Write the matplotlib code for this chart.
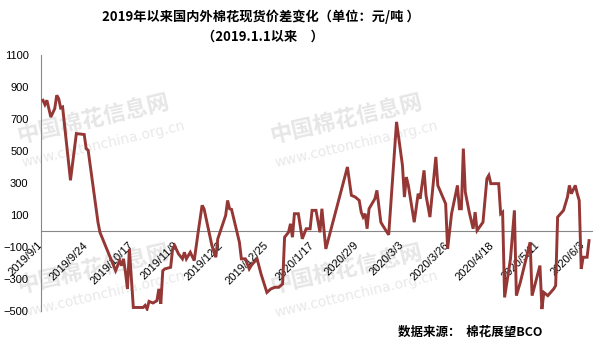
import pandas as pd
import matplotlib
matplotlib.use("Agg")
import matplotlib.pyplot as plt

plt.rcParams['font.family'] = ['Liberation Sans', 'Noto Sans CJK SC', 'DejaVu Sans']

# spread between domestic and international cotton spot price (yuan/ton)
dates = [
    "2019-09-02", "2019-09-03", "2019-09-04", "2019-09-06", "2019-09-08", "2019-09-09",
    "2019-09-10", "2019-09-11", "2019-09-12", "2019-09-16", "2019-09-19", "2019-09-23",
    "2019-09-24", "2019-09-25", "2019-09-30", "2019-10-01", "2019-10-09", "2019-10-11",
    "2019-10-12", "2019-10-13", "2019-10-14", "2019-10-15", "2019-10-16", "2019-10-18",
    "2019-10-23", "2019-10-24", "2019-10-25", "2019-10-26", "2019-10-28", "2019-10-30",
    "2019-10-31", "2019-11-01", "2019-11-02", "2019-11-03", "2019-11-06", "2019-11-07",
    "2019-11-08", "2019-11-10", "2019-11-12", "2019-11-13", "2019-11-14", "2019-11-16",
    "2019-11-18", "2019-11-20", "2019-11-22", "2019-11-23", "2019-11-27", "2019-11-29",
    "2019-11-30", "2019-12-04", "2019-12-05", "2019-12-06", "2019-12-07", "2019-12-11",
    "2019-12-12", "2019-12-14", "2019-12-16", "2019-12-17", "2019-12-20", "2019-12-22",
    "2019-12-25", "2019-12-27", "2019-12-29", "2019-12-31", "2020-01-02", "2020-01-03",
    "2020-01-05", "2020-01-06", "2020-01-07", "2020-01-08", "2020-01-10", "2020-01-12",
    "2020-01-14", "2020-01-16", "2020-01-17", "2020-01-19", "2020-01-21", "2020-01-22",
    "2020-01-24", "2020-02-04", "2020-02-06", "2020-02-08", "2020-02-10", "2020-02-11",
    "2020-02-12", "2020-02-13", "2020-02-14", "2020-02-15", "2020-02-16", "2020-02-18",
    "2020-02-19", "2020-02-21", "2020-02-22", "2020-02-25", "2020-02-29", "2020-03-03",
    "2020-03-04", "2020-03-05", "2020-03-06", "2020-03-09", "2020-03-11", "2020-03-12",
    "2020-03-14", "2020-03-15", "2020-03-17", "2020-03-20", "2020-03-21", "2020-03-25",
    "2020-03-26", "2020-03-28", "2020-03-31", "2020-04-01", "2020-04-02", "2020-04-03",
    "2020-04-04", "2020-04-06", "2020-04-08", "2020-04-09", "2020-04-10", "2020-04-13",
    "2020-04-15", "2020-04-16", "2020-04-17", "2020-04-21", "2020-04-22", "2020-04-23",
    "2020-04-24", "2020-04-27", "2020-04-29", "2020-04-30", "2020-05-02", "2020-05-07",
    "2020-05-08", "2020-05-10", "2020-05-12", "2020-05-13", "2020-05-14", "2020-05-16",
    "2020-05-19", "2020-05-20", "2020-05-21", "2020-05-24", "2020-05-26", "2020-05-27",
    "2020-05-28", "2020-05-30", "2020-05-31", "2020-06-01", "2020-06-02", "2020-06-03",
    "2020-06-05", "2020-06-06",
]
spread = [
    817, 790, 817, 712, 765, 848,
    828, 769, 775, 317, 609, 603,
    515, 505, 55, -8, -248, -185,
    -216, -174, -258, -362, -112, -478,
    -478, -465, -487, -440, -450, -436,
    -362, -455, -248, -237, -227, -112,
    -91, -143, -174, -133, -174, -133,
    -185, -8, 160, 139, -91, -164,
    -49, 97, 191, 139, 135, -70,
    -174, -174, -237, -216, -174, -268,
    -384, -362, -352, -352, -331, -39,
    -8, 45, -39, 108, 108, -49,
    14, 14, 129, 129, -8, 139,
    -112, 400, 223, 212, 191, 118,
    87, 108, 14, 139, 160, 202,
    254, 55, 34, -24, 682, 411,
    212, 337, 285, 55, 233, 202,
    379, 223, 87, 463, 285, 170,
    -112, 108, 285, 139, 139, 515,
    243, 118, 14, 118, 3, 55,
    327, 348, 296, 296, 108, 118,
    -415, -174, 129, -404, -321, -70,
    -404, -310, -216, -488, -384, -404,
    -362, -341, 87, 129, 212, 285,
    233, 285, 233, 191, -237, -164,
    -164, -60,
]

tick_dates = ["2019-09-01", "2019-09-24", "2019-10-17", "2019-11-09", "2019-12-02",
              "2019-12-25", "2020-01-17", "2020-02-09", "2020-03-03", "2020-03-26",
              "2020-04-18", "2020-05-11", "2020-06-03"]
tick_labels = ["2019/9/1", "2019/9/24", "2019/10/17", "2019/11/9", "2019/12/2",
               "2019/12/25", "2020/1/17", "2020/2/9", "2020/3/3", "2020/3/26",
               "2020/4/18", "2020/5/11", "2020/6/3"]
y_ticks = [-500, -300, -100, 100, 300, 500, 700, 900, 1100]

W, H = 594, 358


def fx(x):
    return x / W


def fy(y):
    return 1 - y / H


fig = plt.figure(figsize=(W / 100, H / 100), dpi=100)
ax = fig.add_axes([fx(41), fy(311), (592 - 41) / W, (311 - 55) / H])
ax.set_facecolor('none')

# faint site watermarks behind the chart
cjk = ['Noto Sans CJK SC', 'DejaVu Sans']
for x0, y0 in [(15, 143), (268, 143), (15, 293), (268, 293)]:
    fig.text(fx(x0), fy(y0), "中国棉花信息网", rotation=13, fontsize=16, fontweight='bold',
             color='#e6e6e6', family=cjk, ha='left', va='baseline', zorder=-5)
    fig.text(fx(x0 + 5), fy(y0 + 24), "www.cottonchina.org.cn", rotation=13, fontsize=10,
             color='#e9e9e9', family='DejaVu Sans', ha='left', va='baseline', zorder=-5)

ax.plot(pd.to_datetime(dates), spread, color='#953735', lw=2.1, solid_joinstyle='miter', zorder=3)

start = pd.Timestamp("2019-09-01")
ax.set_xlim(start, start + pd.Timedelta(days=280.5))
ax.set_ylim(-500, 1100)
ax.set_yticks(y_ticks)
ax.set_xticks(pd.to_datetime(tick_dates))
ax.set_xticklabels(tick_labels)

for s in ['top', 'right']:
    ax.spines[s].set_visible(False)
ax.spines['left'].set_color('#888888')
ax.spines['left'].set_linewidth(0.8)
ax.spines['bottom'].set_position(('data', 0))
ax.spines['bottom'].set_color('#888888')
ax.spines['bottom'].set_linewidth(0.8)

ax.tick_params(axis='y', length=0, labelsize=8, pad=9)
ax.tick_params(axis='x', length=0, labelsize=8, pad=9)
for tl in ax.get_xticklabels():
    tl.set_rotation(45)
    tl.set_ha('right')
    tl.set_va('center')
    tl.set_rotation_mode('anchor')

fig.text(fx(261), fy(17), "2019年以来国内外棉花现货价差变化（单位：元/吨 ）", ha='center', va='center',
         fontsize=9.5, fontweight='bold', family=cjk)
fig.text(fx(263), fy(37), "（2019.1.1以来　）", ha='center', va='center',
         fontsize=9.5, fontweight='bold', family=cjk)
fig.text(fx(398), fy(332), "数据来源：  棉花展望BCO", ha='left', va='center',
         fontsize=9, fontweight='bold', family=cjk)

fig.savefig("out.png", dpi=100)
